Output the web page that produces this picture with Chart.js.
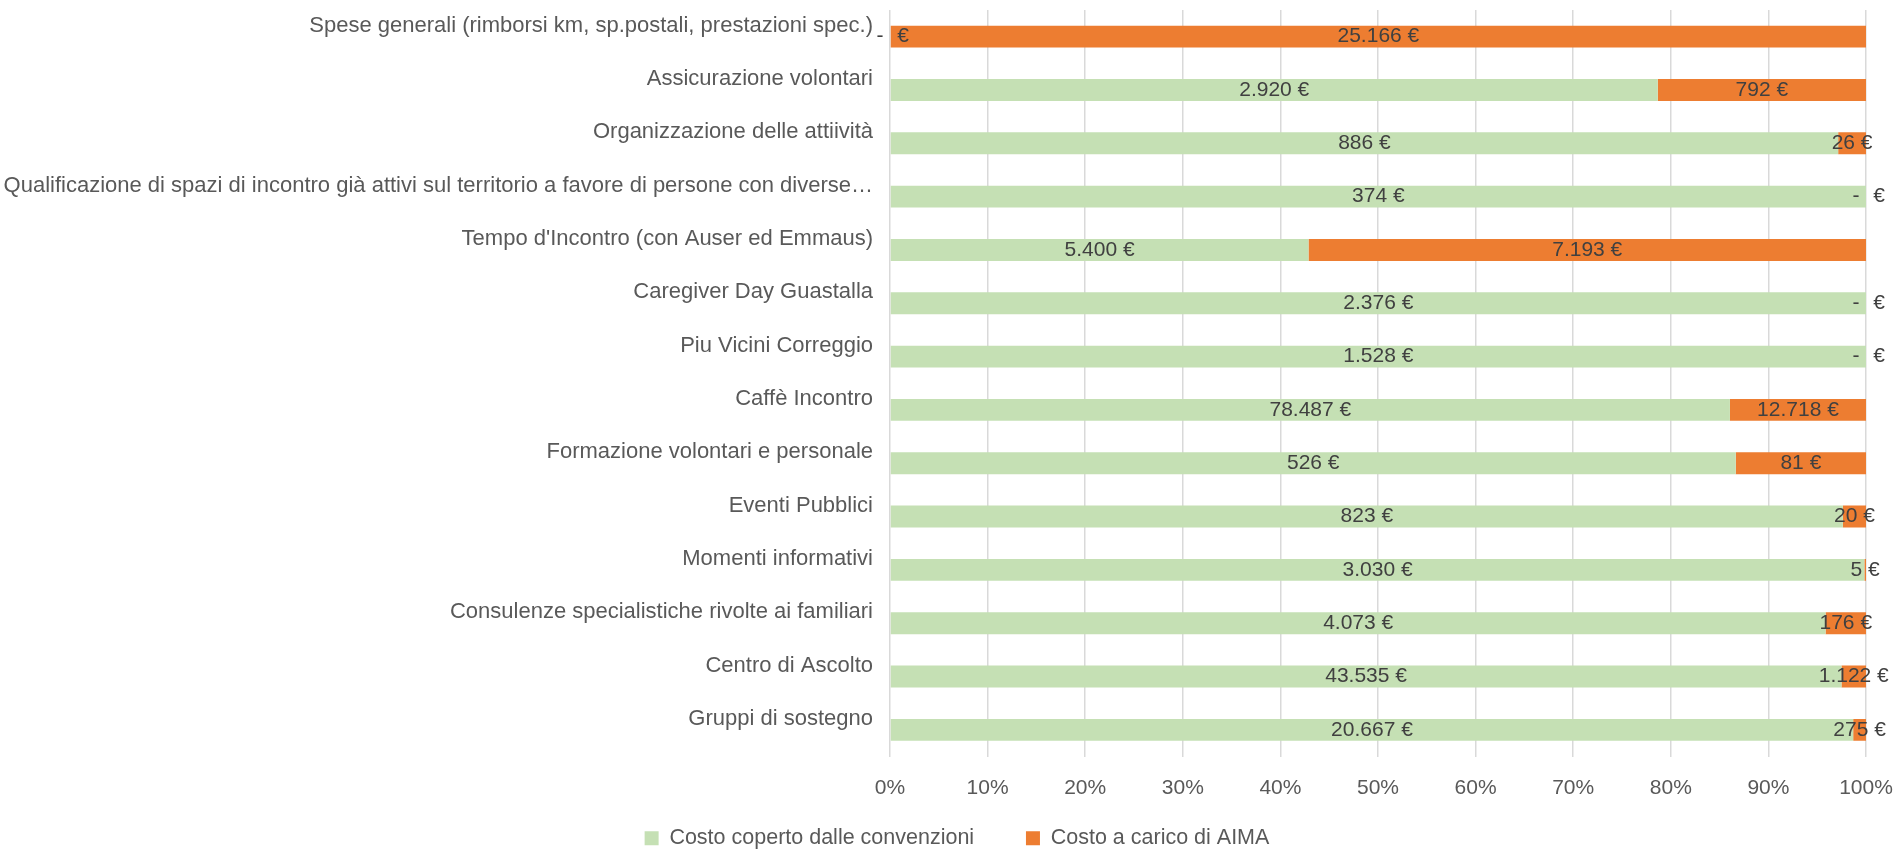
<!DOCTYPE html>
<html>
<head>
<meta charset="utf-8">
<script src="https://cdn.jsdelivr.net/npm/chart.js@4/dist/chart.umd.min.js"></script>
<style>
html, body { margin: 0; padding: 0; background: #fff; }
#wrap { width: 1897px; height: 852px; }
</style>
</head>
<body>
<div id="wrap"><canvas id="myChart" width="1897" height="852"></canvas></div>
<script>
// categories, top to bottom
var categories = [
    'Spese generali (rimborsi km, sp.postali, prestazioni spec.)',
    'Assicurazione volontari',
    'Organizzazione delle attiività',
    'Qualificazione di spazi di incontro già attivi sul territorio a favore di persone con diverse…',
    "Tempo d'Incontro (con Auser ed Emmaus)",
    'Caregiver Day Guastalla',
    'Piu Vicini Correggio',
    'Caffè Incontro',
    'Formazione volontari e personale',
    'Eventi Pubblici',
    'Momenti informativi',
    'Consulenze specialistiche rivolte ai familiari',
    'Centro di Ascolto',
    'Gruppi di sostegno'
];

// euro values
var costoConvenzioni = [0, 2920, 886, 374, 5400, 2376, 1528, 78487, 526, 823, 3030, 4073, 43535, 20667];
var costoAima = [25166, 792, 26, 0, 7193, 0, 0, 12718, 81, 20, 5, 176, 1122, 275];

var seriesNames = ['Costo coperto dalle convenzioni', 'Costo a carico di AIMA'];
var percentTicks = ['0%', '10%', '20%', '30%', '40%', '50%', '60%', '70%', '80%', '90%', '100%'];

var FONT = '"Liberation Sans", Arial, sans-serif';

// 100% stacked -> share of each row
function share(a, b) {
    return a.map(function (v, i) { return v / (v + b[i]) * 100; });
}
var euroSeries = [costoConvenzioni, costoAima];

function euro(n) {
    return String(n).replace(/\B(?=(\d{3})+(?!\d))/g, '.') + ' €';
}

// data labels centred on each segment
var barLabels = {
    id: 'barLabels',
    afterDatasetsDraw: function (chart) {
        var ctx = chart.ctx;
        ctx.save();
        ctx.font = '21px ' + FONT;
        ctx.fillStyle = '#404040';
        ctx.textBaseline = 'middle';
        ctx.textAlign = 'center';
        chart.data.datasets.forEach(function (ds, di) {
            var meta = chart.getDatasetMeta(di);
            meta.data.forEach(function (bar, i) {
                var v = euroSeries[di][i];
                var cx = (bar.x + bar.base) / 2;
                if (v === 0) {
                    // accounting style "-   €"
                    ctx.fillText('-', cx - 10, bar.y);
                    ctx.fillText('€', cx + 13, bar.y);
                } else {
                    ctx.fillText(euro(v), cx, bar.y);
                }
            });
        });
        ctx.restore();
    }
};

// legend sits a bit right of the canvas centre
var legendShift = {
    id: 'legendShift',
    afterLayout: function (chart) {
        chart.legend.left += 24;
        chart.legend.right += 24;
    }
};

var ctx = document.getElementById('myChart').getContext('2d');
var chart = new Chart(ctx, {
    type: 'bar',
    data: {
        labels: categories,
        datasets: [
            {
                label: seriesNames[0],
                backgroundColor: '#C5E0B4',
                data: share(costoConvenzioni, costoAima)
            },
            {
                label: seriesNames[1],
                backgroundColor: '#ED7D31',
                data: share(costoAima, costoConvenzioni)
            }
        ]
    },
    options: {
        indexAxis: 'y',
        responsive: false,
        devicePixelRatio: 1,
        animation: false,
        categoryPercentage: 1,
        barPercentage: 0.41,
        layout: { padding: { top: 10, right: 31, bottom: -7, left: 0 } },
        scales: {
            x: {
                stacked: true,
                min: 0,
                max: 100,
                ticks: {
                    stepSize: 10,
                    maxRotation: 0,
                    padding: 19,
                    color: '#595959',
                    font: { family: FONT, size: 21 },
                    callback: function (v, i) { return percentTicks[i]; }
                },
                grid: { color: '#D9D9D9', lineWidth: 1.5, drawTicks: false },
                border: { display: false },
                afterFit: function (scale) {
                    scale.height = 61;
                    scale.paddingLeft = 0;
                    scale.paddingRight = 0;
                }
            },
            y: {
                stacked: true,
                ticks: {
                    autoSkip: false,
                    padding: 17,
                    labelOffset: -11,
                    color: '#595959',
                    font: { family: FONT, size: 22 }
                },
                grid: { display: false, drawTicks: false },
                border: { display: false },
                afterFit: function (scale) {
                    scale.width = 890;
                    scale.paddingTop = 0;
                    scale.paddingBottom = 0;
                }
            }
        },
        plugins: {
            legend: {
                position: 'bottom',
                labels: {
                    boxWidth: 14,
                    boxHeight: 14,
                    padding: 10,
                    color: '#595959',
                    font: { family: FONT, size: 21.5 },
                    generateLabels: function (chart) {
                        var items = Chart.defaults.plugins.legend.labels.generateLabels(chart);
                        // wider gap between the two entries
                        items[0].text += '       ';
                        return items;
                    }
                }
            },
            tooltip: { enabled: false }
        }
    },
    plugins: [barLabels, legendShift]
});
</script>
</body>
</html>
